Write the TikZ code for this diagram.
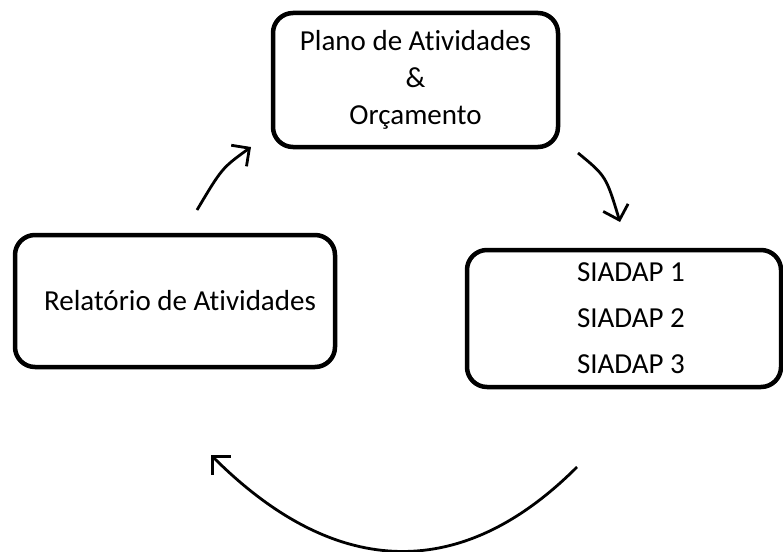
\documentclass[tikz,border=0pt]{standalone}
\usepackage{fontspec}
\setmainfont[Ligatures=NoCommon]{Carlito}
\usetikzlibrary{arrows.meta}
\begin{document}
\begin{tikzpicture}[x=1pt, y=-1pt]
    \tikzstyle{etapa} = [draw, line width=4.5pt, rounded corners=20pt, align=center, font=\fontsize{29}{37}\selectfont]
    \tikzstyle{seta} = [line width=2.8pt, -{Straight Barb[length=13pt, width=26pt, line width=2.8pt]}]
    \useasboundingbox (0,0) rectangle (783,551);
    \node[etapa, minimum width=285pt, minimum height=134pt] (plano) at (415.5,80) {Plano de Atividades\\\&\\Orçamento};
    \node[etapa, minimum width=320pt, minimum height=132pt] (relatorio) at (175,301) {\hspace*{10pt}Relatório de Atividades};
    \node[etapa, minimum width=314pt, minimum height=137pt, font=\fontsize{29}{46}\selectfont] (siadap) at (624,318.5) {\hspace*{14pt}SIADAP 1\\\hspace*{14pt}SIADAP 2\\\hspace*{14pt}SIADAP 3};
    % setas do ciclo
    \coordinate (a1) at (197,210);
    \coordinate (b1) at (251,147);
    \coordinate (a2) at (578,153);
    \coordinate (b2) at (620,222);
    \coordinate (a3) at (577,467);
    \coordinate (b3) at (211,455);
    \draw[seta] (a1) .. controls (222,168) .. (b1);
    \draw[seta] (a2) .. controls (606,176) .. (b2);
    \draw[seta] (a3) .. controls (457,587) and (331,575) .. (b3);
\end{tikzpicture}
\end{document}
